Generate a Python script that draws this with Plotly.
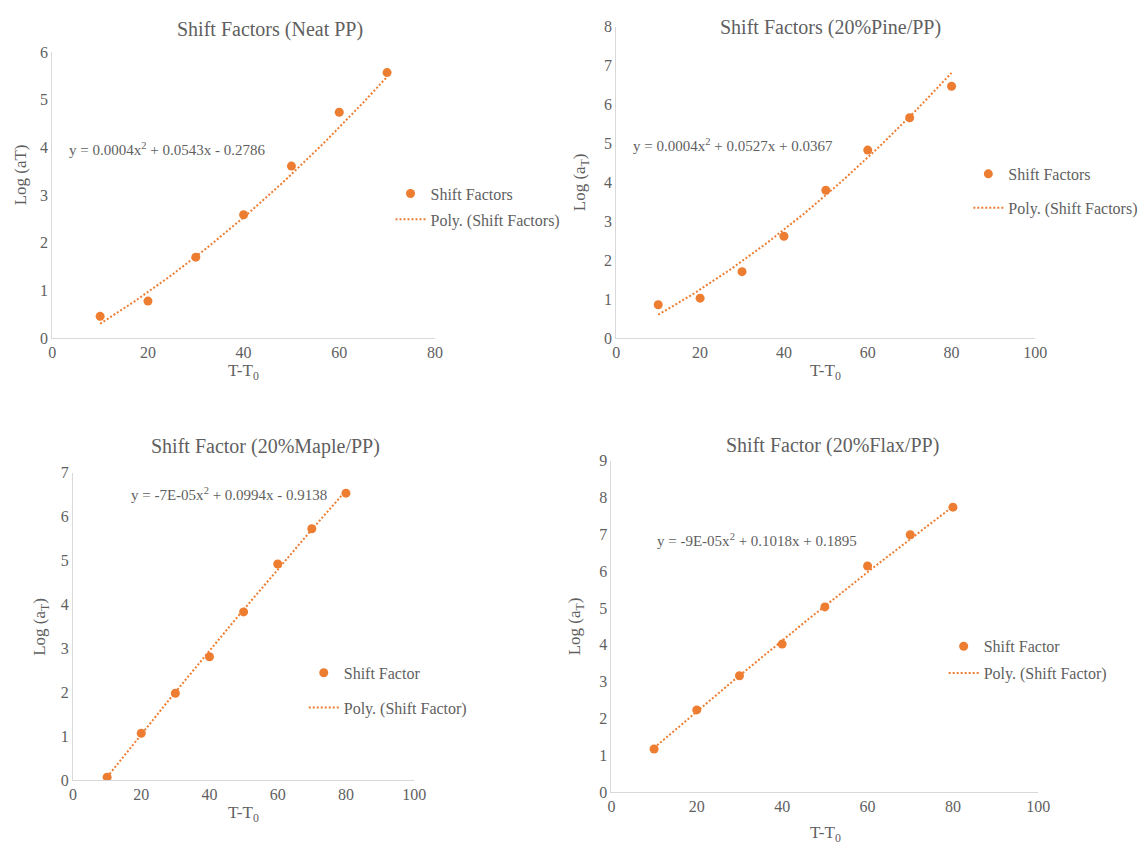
import numpy as np
import plotly.graph_objects as go

# Temperature offsets T - T0
neat_x = [10, 20, 30, 40, 50, 60, 70]
fib_x = [10, 20, 30, 40, 50, 60, 70, 80]

# Log(aT) shift factors
neat_y = [0.46, 0.78, 1.70, 2.59, 3.61, 4.74, 5.57]
pine_y = [0.86, 1.03, 1.71, 2.62, 3.80, 4.83, 5.66, 6.47]
maple_y = [0.07, 1.07, 1.98, 2.81, 3.83, 4.92, 5.72, 6.53]
flax_y = [1.17, 2.23, 3.16, 4.02, 5.03, 6.14, 6.99, 7.74]

# Quadratic trendline coefficients (a, b, c) for y = a x^2 + b x + c
neat_fit = [0.0004, 0.0543, -0.2786]
pine_fit = [0.0004, 0.0527, 0.0367]
maple_fit = [-7e-05, 0.0994, -0.9138]
flax_fit = [-9e-05, 0.1018, 0.1895]

titles = ["Shift Factors (Neat PP)", "Shift Factors (20%Pine/PP)",
          "Shift Factor (20%Maple/PP)", "Shift Factor (20%Flax/PP)"]
equations = ["y = 0.0004x<sup>2</sup> + 0.0543x - 0.2786",
             "y = 0.0004x<sup>2</sup> + 0.0527x + 0.0367",
             "y = -7E-05x<sup>2</sup> + 0.0994x - 0.9138",
             "y = -9E-05x<sup>2</sup> + 0.1018x + 0.1895"]
series_names = ["Shift Factors", "Shift Factors", "Shift Factor", "Shift Factor"]
ytitles = ["Log (aT)", "Log (a<sub>T</sub>)", "Log (a<sub>T</sub>)", "Log (a<sub>T</sub>)"]

W, H = 1144, 851
ORANGE = "#ED7D31"
GREY = "#5F5F5F"
AXIS = "#D9D9D9"
FONT = "Times New Roman, Liberation Serif, serif"

# panel geometry in pixels: (x0, x1, ytop, ybottom), axis ranges
panels = [
    dict(px=(49, 437, 45, 337), xr=80, yr=6, x=neat_x, y=neat_y, fit=neat_fit),
    dict(px=(621, 1046, 19, 337), xr=100, yr=8, x=fib_x, y=pine_y, fit=pine_fit),
    dict(px=(70, 416, 474, 788), xr=100, yr=7, x=fib_x, y=maple_y, fit=maple_fit),
    dict(px=(616, 1049, 462, 800), xr=100, yr=9, x=fib_x, y=flax_y, fit=flax_fit),
]

title_pos = [(270, 22), (838, 20), (265, 447), (840, 446)]
eq_pos = [(64, 144), (636, 140), (127, 496), (660, 543)]
xt_pos = [(243, 371), (833, 371), (243, 822), (833, 843)]
yt_pos = [(17, 170), (586, 178), (38, 631), (581, 631)]
# legend anchor (left x, top y) and gap between the two entries
leg_pos = [(392, 172, 2), (978, 152, 10), (304, 661, 11), (953, 634, 3)]

def px2x(v):
    return v / W

def px2y(v):
    return 1 - v / H

fig = go.Figure()
annotations = []
layout = {}

for i, p in enumerate(panels):
    n = "" if i == 0 else str(i + 1)
    xa, ya = "x" + n, "y" + n
    leg = "legend" if i == 0 else "legend" + str(i + 1)
    x0, x1, yt, yb = p["px"]

    fig.add_trace(go.Scatter(
        x=p["x"], y=p["y"], mode="markers", name=series_names[i],
        marker=dict(color=ORANGE, size=9), xaxis=xa, yaxis=ya,
        legend=leg, legendgroup="pts%d" % i))

    xs = np.linspace(min(p["x"]), max(p["x"]), 80)
    ys = np.polyval(p["fit"], xs)
    fig.add_trace(go.Scatter(
        x=xs, y=ys, mode="lines", name="Poly. (%s)" % series_names[i],
        line=dict(color=ORANGE, width=2, dash="2px,2px"), xaxis=xa, yaxis=ya,
        legend=leg, legendgroup="fit%d" % i))

    tickfont = dict(family=FONT, size=16, color=GREY)
    layout["xaxis" + n] = dict(
        domain=[px2x(x0), px2x(x1)], range=[0, p["xr"]], dtick=20,
        showgrid=False, zeroline=False, showline=True, linecolor=AXIS,
        linewidth=1, ticks="", tickfont=tickfont, anchor=ya, fixedrange=True)
    layout["yaxis" + n] = dict(
        domain=[px2y(yb), px2y(yt)], range=[0, p["yr"]], dtick=1,
        showgrid=False, zeroline=False, showline=True, linecolor=AXIS,
        linewidth=1, ticks="", tickfont=tickfont, anchor=xa, fixedrange=True)

    lx, ly, gap = leg_pos[i]
    layout[leg] = dict(
        x=px2x(lx), y=px2y(ly), xanchor="left", yanchor="top",
        bgcolor="rgba(0,0,0,0)", traceorder="grouped", tracegroupgap=gap,
        font=dict(family=FONT, size=16, color=GREY), itemwidth=30)

    tx, ty = title_pos[i]
    annotations.append(dict(
        text=titles[i], x=px2x(tx), y=px2y(ty), xref="paper", yref="paper",
        showarrow=False, xanchor="center", yanchor="middle",
        font=dict(family=FONT, size=20, color=GREY)))
    ex, ey = eq_pos[i]
    annotations.append(dict(
        text=equations[i], x=px2x(ex), y=px2y(ey), xref="paper", yref="paper",
        showarrow=False, xanchor="left", yanchor="middle",
        font=dict(family=FONT, size=15, color=GREY)))
    gx, gy = xt_pos[i]
    annotations.append(dict(
        text="T-T<sub>0</sub>", x=px2x(gx), y=px2y(gy), xref="paper", yref="paper",
        showarrow=False, xanchor="center", yanchor="middle",
        font=dict(family=FONT, size=17, color=GREY)))
    hx, hy = yt_pos[i]
    annotations.append(dict(
        text=ytitles[i], x=px2x(hx), y=px2y(hy), xref="paper", yref="paper",
        showarrow=False, xanchor="center", yanchor="middle", textangle=-90,
        font=dict(family=FONT, size=17, color=GREY)))

fig.update_layout(
    width=W, height=H, margin=dict(l=0, r=0, t=0, b=0),
    paper_bgcolor="white", plot_bgcolor="white",
    showlegend=True, annotations=annotations, **layout)

fig.write_html("out.html")
